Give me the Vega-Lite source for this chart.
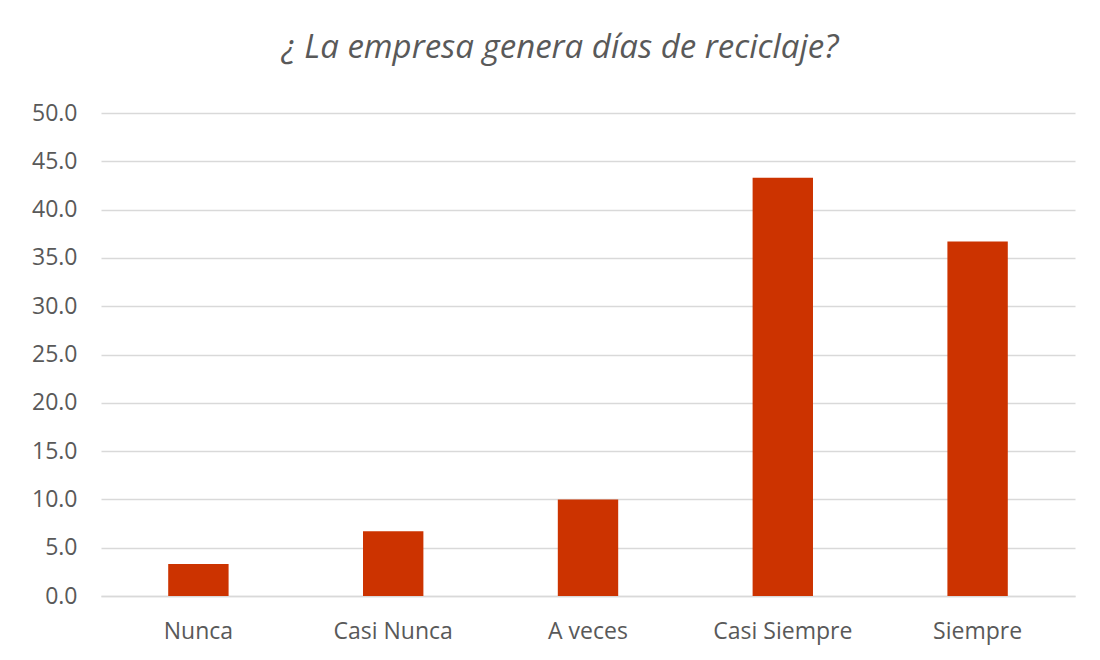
{
  "$schema": "https://vega.github.io/schema/vega-lite/v6.json",
  "width": 974,
  "height": 483,
  "autosize": {"type": "none"},
  "padding": {"left": 101, "top": 113, "right": 25, "bottom": 64},
  "background": "white",
  "title": {
    "text": "¿ La empresa genera días de reciclaje?",
    "font": "Open Sans",
    "fontStyle": "italic",
    "fontWeight": "normal",
    "fontSize": 33,
    "color": "#595959",
    "anchor": "middle",
    "frame": "group",
    "dx": -28,
    "offset": 37
  },
  "data": {
    "values": [
      {"categoria": "Nunca", "valor": 3.3},
      {"categoria": "Casi Nunca", "valor": 6.7},
      {"categoria": "A veces", "valor": 10.0},
      {"categoria": "Casi Siempre", "valor": 43.3},
      {"categoria": "Siempre", "valor": 36.7}
    ]
  },
  "mark": {"type": "bar", "color": "#CC3300"},
  "encoding": {
    "x": {
      "field": "categoria",
      "type": "nominal",
      "sort": null,
      "scale": {"paddingInner": 0.69, "paddingOuter": 0.345},
      "axis": {
        "title": null,
        "labelAngle": 0,
        "labelFont": "Open Sans",
        "labelFontSize": 23,
        "labelColor": "#595959",
        "labelPadding": 24,
        "ticks": false,
        "domainColor": "#d9d9d9",
        "domainWidth": 1.5,
        "grid": false
      }
    },
    "y": {
      "field": "valor",
      "type": "quantitative",
      "scale": {"domain": [0, 50]},
      "axis": {
        "title": null,
        "values": [0, 5, 10, 15, 20, 25, 30, 35, 40, 45, 50],
        "format": ".1f",
        "labelFont": "Open Sans",
        "labelFontSize": 23,
        "labelColor": "#595959",
        "labelPadding": 24,
        "ticks": false,
        "domain": false,
        "gridColor": "#d9d9d9",
        "gridWidth": 1.5
      }
    }
  },
  "config": {"view": {"stroke": null}}
}
